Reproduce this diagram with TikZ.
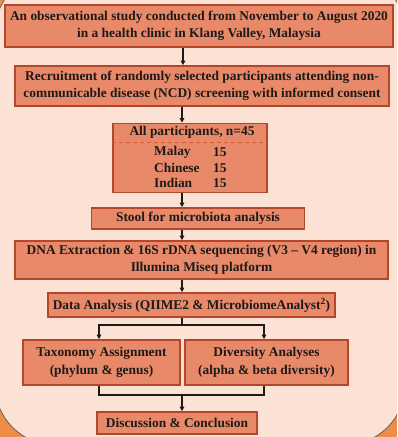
\documentclass[tikz,border=0pt]{standalone}
\usepackage{fontspec}
\setmainfont{Liberation Serif}
\usetikzlibrary{arrows.meta}
\definecolor{peach}{HTML}{FBE2D4}
\definecolor{outer}{HTML}{EE8C48}
\definecolor{boxfill}{HTML}{E8896A}
\definecolor{boxline}{HTML}{B4462C}
\definecolor{ink}{HTML}{1E1A18}
\definecolor{dashc}{HTML}{D65A33}
\tikzset{
  box/.style={draw=boxline, fill=boxfill, line width=1.6pt, inner sep=0pt, align=center, text=ink, font=\bfseries\fontsize{13.4}{17.5}\selectfont},
  lbl/.style={inner sep=0pt, text=ink, font=\bfseries\fontsize{13.4}{17.5}\selectfont},
  conn/.style={line width=1.3pt, draw=ink},
  arr/.style={conn, -{Triangle[length=4.5pt,width=4.5pt]}}
}
\begin{document}
\begin{tikzpicture}[x=1pt,y=-1pt]
\useasboundingbox (0,0) rectangle (397,437);
\clip (0,0) rectangle (397,437);
\fill[outer] (0,0) rectangle (397,437);
\draw[fill=peach, draw=ink!70, line width=0.8pt, rounded corners=60pt] (-5,-28) rectangle (405,445);

\node[box, minimum width=388, minimum height=42] (b1) at (199,26) {An observational study conducted from November to August 2020\\in a health clinic in Klang Valley, Malaysia};
\node[box, minimum width=374, minimum height=40] (b2) at (202,86) {Recruitment of randomly selected participants attending non-\\communicable disease (NCD) screening with informed consent};
\node[box, minimum width=154, minimum height=69] (b3) at (190,158) {};
\node[box, minimum width=213, minimum height=21] (b4) at (198,218.5) {Stool for microbiota analysis};
\node[box, minimum width=373, minimum height=38] (b5) at (201.5,260) {DNA Extraction \& 16S rDNA sequencing (V3 -- V4 region) in\\Illumina Miseq platform};
\node[box, minimum width=287, minimum height=24] (b6) at (191.5,305) {Data Analysis (QIIME2 \& MicrobiomeAnalyst\textsuperscript{2})};
\node[box, minimum width=157, minimum height=45] (b7) at (101.5,362.5) {Taxonomy Assignment\\(phylum \& genus)};
\node[box, minimum width=163, minimum height=45] (b8) at (266.5,362.5) {Diversity Analyses\\(alpha \& beta diversity)};
\node[box, minimum width=160, minimum height=22] (b9) at (177,423) {Discussion \& Conclusion};

\node[lbl] (t0) at (192,132) {All participants, n=45};
\draw[dashc, line width=0.9pt, dash pattern=on 4pt off 3pt] (b3.west |- 0,142) coordinate (dl) -- (b3.east |- 0,142) coordinate (dr);
\node[lbl, anchor=west] (m1) at (154,152) {Malay};
\node[lbl, anchor=west] (m2) at (154,168) {Chinese};
\node[lbl, anchor=west] (m3) at (154,183) {Indian};
\node[lbl, anchor=west] (n1) at (213,152) {15};
\node[lbl, anchor=west] (n2) at (213,168) {15};
\node[lbl, anchor=west] (n3) at (213,183) {15};

\draw[arr] (b1.south -| 183,0) -- (b2.north -| 183,0);
\draw[arr] (b2.south -| 182,0) -- (b3.north -| 182,0);
\draw[arr] (b3.south -| 182,0) -- (b4.north -| 182,0);
\draw[arr] (b4.south -| 182,0) -- (b5.north -| 182,0);
\draw[arr] (b5.south -| 182,0) -- (b6.north -| 182,0);
\coordinate (s1) at (182,325);
\draw[conn] (b6.south -| 182,0) -- (s1);
\draw[arr] (s1) -| (b7.north -| 99,0);
\draw[arr] (s1) -| (b8.north -| 264,0);
\coordinate (s2) at (182,395);
\draw[conn] (b7.south -| 99,0) |- (s2);
\draw[conn] (b8.south -| 264,0) |- (s2);
\draw[arr] (s2) -- (b9.north -| 182,0);
\end{tikzpicture}
\end{document}
